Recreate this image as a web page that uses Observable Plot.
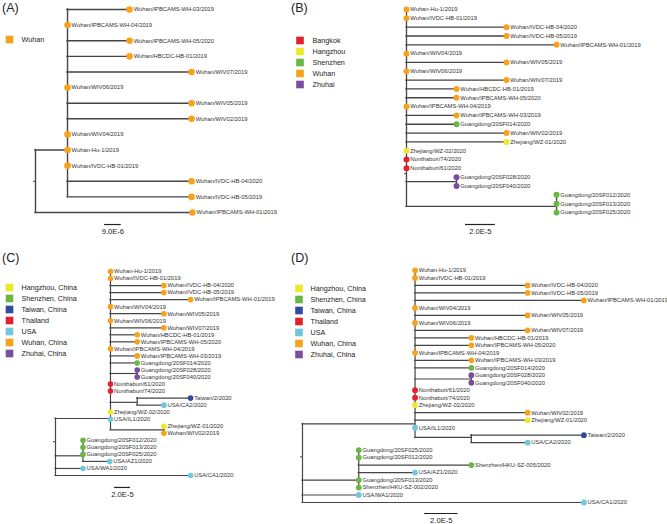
<!DOCTYPE html>
<html><head><meta charset="utf-8">
<script src="https://cdn.jsdelivr.net/npm/d3@7"></script>
<script src="https://cdn.jsdelivr.net/npm/@observablehq/plot@0.6"></script>
<style>
body{margin:0;background:#fff;font-family:"Liberation Sans",Arial,sans-serif;}
#root{position:relative;width:667px;height:524px;overflow:hidden;background:#fff;}
#root svg{position:absolute;left:0;top:0;background:transparent !important;overflow:visible;}
.plabel{position:absolute;font-size:12.5px;color:#222;line-height:1;}
</style></head>
<body><div id="root"></div>
<script>
// ---------- regions & colours ----------
const regionKeys   = ["Hangzhou","Shenzhen","Taiwan","Thailand","USA","Wuhan","Zhuhai"];
const regionColors = ["#ece92b","#6bb647","#2e4b9f","#e3202b","#6ec7dc","#f6a21d","#7b4e9d"];

const strainNames = ["Wuhan-Hu-1/2019","Wuhan/IVDC-HB-01/2019","Wuhan/IVDC-HB-04/2020","Wuhan/IVDC-HB-05/2019",
 "Wuhan/IPBCAMS-WH-01/2019","Wuhan/IPBCAMS-WH-03/2019","Wuhan/IPBCAMS-WH-04/2019","Wuhan/IPBCAMS-WH-05/2020",
 "Wuhan/WIV02/2019","Wuhan/WIV04/2019","Wuhan/WIV05/2019","Wuhan/WIV06/2019","Wuhan/WIV07/2019","Wuhan/HBCDC-HB-01/2019",
 "Guangdong/20SF014/2020","Guangdong/20SF028/2020","Guangdong/20SF040/2020","Guangdong/20SF012/2020","Guangdong/20SF013/2020",
 "Guangdong/20SF025/2020","Zhejiang/WZ-01/2020","Zhejiang/WZ-02/2020","Nonthaburi/74/2020","Nonthaburi/61/2020",
 "Taiwan/2/2020","USA/CA1/2020","USA/CA2/2020","USA/IL1/2020","USA/AZ1/2020","USA/WA1/2020",
 "Shenzhen/HKU-SZ-002/2020","Shenzhen/HKU-SZ-005/2020"];
const strainRegions = ["Wuhan","Wuhan","Wuhan","Wuhan","Wuhan","Wuhan","Wuhan","Wuhan","Wuhan","Wuhan","Wuhan","Wuhan","Wuhan","Wuhan",
 "Shenzhen","Zhuhai","Zhuhai","Shenzhen","Shenzhen","Shenzhen","Hangzhou","Hangzhou","Thailand","Thailand",
 "Taiwan","USA","USA","USA","USA","USA","Shenzhen","Shenzhen"];

// ---------- Panel A (depths: distance from root, x 1e-5 subs/site) ----------
const tipsA = ["Wuhan/IPBCAMS-WH-03/2019","Wuhan/IPBCAMS-WH-04/2019","Wuhan/IPBCAMS-WH-05/2020","Wuhan/HBCDC-HB-01/2019",
 "Wuhan/WIV07/2019","Wuhan/WIV06/2019","Wuhan/WIV05/2019","Wuhan/WIV02/2019","Wuhan/WIV04/2019","Wuhan-Hu-1/2019",
 "Wuhan/IVDC-HB-01/2019","Wuhan/IVDC-HB-04/2020","Wuhan/IVDC-HB-05/2019","Wuhan/IPBCAMS-WH-01/2019"];
const depthA  = [5.08,1.73,5.08,5.08,8.43,1.73,8.43,8.43,1.73,1.73,1.73,8.43,8.43,8.48];
const parentA = ["n","n","n","n","n","n","n","n","n","n","n","n","n","root"];
const nodeIdsA = ["root","n"], nodeDepthA = [0,1.73], nodeRowA = [11,9], nodeParentA = [null,"root"];
const legendA = ["Wuhan"], legendKeysA = ["Wuhan"];
const scaleLenA = 0.9, scaleLabelA = "9.0E-6";

// ---------- Panel B ----------
const tipsB = ["Wuhan-Hu-1/2019","Wuhan/IVDC-HB-01/2019","Wuhan/IVDC-HB-04/2020","Wuhan/IVDC-HB-05/2019","Wuhan/IPBCAMS-WH-01/2019",
 "Wuhan/WIV04/2019","Wuhan/WIV05/2019","Wuhan/WIV06/2019","Wuhan/WIV07/2019","Wuhan/HBCDC-HB-01/2019","Wuhan/IPBCAMS-WH-05/2020",
 "Wuhan/IPBCAMS-WH-04/2019","Wuhan/IPBCAMS-WH-03/2019","Guangdong/20SF014/2020","Wuhan/WIV02/2019","Zhejiang/WZ-01/2020",
 "Zhejiang/WZ-02/2020","Nonthaburi/74/2020","Nonthaburi/61/2020","Guangdong/20SF028/2020","Guangdong/20SF040/2020",
 "Guangdong/20SF012/2020","Guangdong/20SF013/2020","Guangdong/20SF025/2020"];
const depthB  = [0,0,6.7,6.7,10.05,0,6.7,0,6.7,3.35,3.35,0,3.35,3.35,6.7,6.7,0,0,0,3.35,3.35,10.05,10.05,10.05];
const parentB = ["root","root","root","root","root","root","root","root","root","root","root","root","root","root","root","root",
 "root","root","root","p","p","g","g","g"];
const nodeIdsB = ["root","p","g"], nodeDepthB = [0,3.35,10.05], nodeRowB = [18.6,19.5,22.3], nodeParentB = [null,"root","root"];
const legendB = ["Bangkok","Hangzhou","Shenzhen","Wuhan","Zhuhai"], legendKeysB = ["Thailand","Hangzhou","Shenzhen","Wuhan","Zhuhai"];
const scaleLenB = 2, scaleLabelB = "2.0E-5";

// ---------- Panel C ----------
const tipsC = ["Wuhan-Hu-1/2019","Wuhan/IVDC-HB-01/2019","Wuhan/IVDC-HB-04/2020","Wuhan/IVDC-HB-05/2019","Wuhan/IPBCAMS-WH-01/2019",
 "Wuhan/WIV04/2019","Wuhan/WIV05/2019","Wuhan/WIV06/2019","Wuhan/WIV07/2019","Wuhan/HBCDC-HB-01/2019","Wuhan/IPBCAMS-WH-05/2020",
 "Wuhan/IPBCAMS-WH-04/2019","Wuhan/IPBCAMS-WH-03/2019","Guangdong/20SF014/2020","Guangdong/20SF028/2020","Guangdong/20SF040/2020",
 "Nonthaburi/61/2020","Nonthaburi/74/2020","Taiwan/2/2020","USA/CA2/2020","Zhejiang/WZ-02/2020","USA/IL1/2020",
 "Zhejiang/WZ-01/2020","Wuhan/WIV02/2019","Guangdong/20SF012/2020","Guangdong/20SF013/2020","Guangdong/20SF025/2020",
 "USA/AZ1/2020","USA/WA1/2020","USA/CA1/2020"];
const depthC  = [6.9,6.9,13.6,13.6,16.95,6.9,13.6,6.9,13.6,10.25,10.25,6.9,10.25,10.25,10.25,10.25,6.9,6.9,16.95,13.6,
 6.9,6.9,13.6,13.6,3.45,3.45,3.45,6.8,3.45,16.95];
const parentC = ["b","b","b","b","b","b","b","b","b","b","b","b","b","b","p","p","b","b","t","t","b","b","w","w",
 "g","g","g","g","root","root"];
const nodeIdsC = ["root","b","p","t","w","g"], nodeDepthC = [0,6.9,10.25,10.25,13.6,3.45],
      nodeRowC = [24.2,20.9,14.5,18.6,22.5,26.2], nodeParentC = [null,"root","b","b","b","root"];
const legendC = ["Hangzhou, China","Shenzhen, China","Taiwan, China","Thailand","USA","Wuhan, China","Zhuhai, China"];
const legendKeysC = ["Hangzhou","Shenzhen","Taiwan","Thailand","USA","Wuhan","Zhuhai"];
const scaleLenC = 2, scaleLabelC = "2.0E-5";

// ---------- Panel D ----------
const tipsD = ["Wuhan-Hu-1/2019","Wuhan/IVDC-HB-01/2019","Wuhan/IVDC-HB-04/2020","Wuhan/IVDC-HB-05/2019","Wuhan/IPBCAMS-WH-01/2019",
 "Wuhan/WIV04/2019","Wuhan/WIV05/2019","Wuhan/WIV06/2019","Wuhan/WIV07/2019","Wuhan/HBCDC-HB-01/2019","Wuhan/IPBCAMS-WH-05/2020",
 "Wuhan/IPBCAMS-WH-04/2019","Wuhan/IPBCAMS-WH-03/2019","Guangdong/20SF014/2020","Guangdong/20SF028/2020","Guangdong/20SF040/2020",
 "Nonthaburi/61/2020","Nonthaburi/74/2020","Zhejiang/WZ-02/2020","Wuhan/WIV02/2019","Zhejiang/WZ-01/2020","USA/IL1/2020",
 "Taiwan/2/2020","USA/CA2/2020","Guangdong/20SF025/2020","Guangdong/20SF012/2020","Shenzhen/HKU-SZ-005/2020","USA/AZ1/2020",
 "Guangdong/20SF013/2020","Shenzhen/HKU-SZ-002/2020","USA/WA1/2020","USA/CA1/2020"];
const depthD  = [6.7,6.7,13.4,13.4,16.75,6.7,13.4,6.7,13.4,10.05,10.05,6.7,10.05,10.05,10.05,10.05,6.7,6.7,6.7,13.4,13.4,6.7,
 16.75,13.4,3.35,3.35,10.05,6.7,3.35,3.35,3.35,16.75];
const parentD = ["b","b","b","b","b","b","b","b","b","b","b","b","b","b","p","p","b","b","b","b","b","b","t","t",
 "g","g","g","g","g","g","root","root"];
const nodeIdsD = ["root","b","p","t","g"], nodeDepthD = [0,6.7,10.05,10.05,3.35],
      nodeRowD = [24.9,20.5,14.5,22.3,28], nodeParentD = [null,"root","b","b","root"];
const legendD = legendC, legendKeysD = legendKeysC;
const scaleLenD = 2, scaleLabelD = "2.0E-5";

// ---------- layout (pixels) ----------
const panels = [
 {lab:"(A)", lx:2, ly:2, tips:tipsA, depth:depthA, parent:parentA, nodeIds:nodeIdsA, nodeDepth:nodeDepthA, nodeRow:nodeRowA, nodeParent:nodeParentA,
  legend:legendA, legendKeys:legendKeysA, sLen:scaleLenA, sLab:scaleLabelA,
  xRoot:35, ppu:18.51, yTop:9, yBot:212, r:3.3, sw:1.4, barX:3.73, barRow:13.77,
  legX:9, legY:[38.6,38.6], legTX:21},
 {lab:"(B)", lx:291, ly:2, tips:tipsB, depth:depthB, parent:parentB, nodeIds:nodeIdsB, nodeDepth:nodeDepthB, nodeRow:nodeRowB, nodeParent:nodeParentB,
  legend:legendB, legendKeys:legendKeysB, sLen:scaleLenB, sLab:scaleLabelB,
  xRoot:406, ppu:14.93, yTop:9, yBot:212, r:3.0, sw:1.3, barX:3.95, barRow:24.36,
  legX:299.5, legY:[39,85], legTX:312},
 {lab:"(C)", lx:2, ly:252, tips:tipsC, depth:depthC, parent:parentC, nodeIds:nodeIdsC, nodeDepth:nodeDepthC, nodeRow:nodeRowC, nodeParent:nodeParentC,
  legend:legendC, legendKeys:legendKeysC, sLen:scaleLenC, sLab:scaleLabelC,
  xRoot:55, ppu:7.97, yTop:271, yBot:475, r:2.8, sw:1.2, barX:7.4, barRow:30.7,
  legX:9, legY:[285.5,355], legTX:21},
 {lab:"(D)", lx:291, ly:252, tips:tipsD, depth:depthD, parent:parentD, nodeIds:nodeIdsD, nodeDepth:nodeDepthD, nodeRow:nodeRowD, nodeParent:nodeParentD,
  legend:legendD, legendKeys:legendKeysD, sLen:scaleLenD, sLab:scaleLabelD,
  xRoot:302, ppu:16.8, yTop:270, yBot:502, r:2.9, sw:1.2, barX:7.26, barRow:32.47,
  legX:298.5, legY:[286,355.5], legTX:310}
];

const FONT = "Liberation Sans, Arial, Helvetica, sans-serif";
const colorOfRegion = k => regionColors[regionKeys.indexOf(k)];
const colorOfStrain = name => colorOfRegion(strainRegions[strainNames.indexOf(name)]);
const root = document.getElementById("root");

function treePlot(p) {
  const n = p.tips.length;
  const nodes = p.nodeIds.map((id,i)=>({id, depth:p.nodeDepth[i], row:p.nodeRow[i], parent:p.nodeParent[i]}));
  const byId = new Map(nodes.map(d=>[d.id,d]));
  const tips = p.tips.map((name,i)=>({name, depth:p.depth[i], row:i, parent:p.parent[i], color:colorOfStrain(name)}));
  const all = [...tips, ...nodes];
  const horiz = all.filter(d=>d.parent).map(d=>({y:d.row, x1:byId.get(d.parent).depth, x2:d.depth}));
  const vert = nodes.map(nd=>{
    const rows = all.filter(c=>c.parent===nd.id).map(c=>c.row);
    return {x:nd.depth, y1:d3.min(rows), y2:d3.max(rows)};
  });
  const rootNode = nodes.find(d=>!d.parent);
  const line = {stroke:"#454545", strokeWidth:p.sw, strokeLinecap:"square"};
  return Plot.plot({
    width:667, height:524, margin:0,
    style:{background:"transparent", fontFamily:FONT},
    x:{type:"linear", domain:[0,1], range:[p.xRoot, p.xRoot+p.ppu], axis:null},
    y:{type:"linear", domain:[0,n-1], range:[p.yTop, p.yBot], axis:null},
    color:{type:"identity"},
    marks:[
      Plot.ruleY(horiz, {y:"y", x1:"x1", x2:"x2", ...line}),
      Plot.ruleX(vert, {x:"x", y1:"y1", y2:"y2", ...line}),
      Plot.ruleY([rootNode], {y:"row", x1:d=>d.depth-2/p.ppu, x2:"depth", stroke:"#454545", strokeWidth:1}),
      Plot.dot(tips, {x:"depth", y:"row", r:p.r, fill:"color"}),
      Plot.text(tips, {x:"depth", y:"row", text:"name", dx:p.r+0.8, textAnchor:"start", fontSize:5.8, fill:"#333", fontFamily:FONT}),
      Plot.ruleY([p.sLab], {y:()=>p.barRow, x1:()=>p.barX, x2:()=>p.barX+p.sLen, stroke:"#222", strokeWidth:1.2}),
      Plot.text([p.sLab], {x:()=>p.barX+p.sLen/2, y:()=>p.barRow, text:d=>d, dy:7.5, fontSize:7.6, fill:"#222", fontFamily:FONT})
    ]
  });
}

function legendPlot(p) {
  return Plot.plot({
    width:667, height:524, margin:0,
    style:{background:"transparent", fontFamily:FONT},
    x:{type:"linear", domain:[0,1], range:[p.legX, p.legX+1], axis:null},
    y:{type:"point", domain:p.legend, range:p.legY, padding:0, axis:null},
    marks:[
      Plot.dot(p.legend, {x:()=>0, y:d=>d, symbol:"square", r:4.3, fill:(d,i)=>colorOfRegion(p.legendKeys[i])}),
      Plot.text(p.legend, {x:()=>0, y:d=>d, text:d=>d, dx:p.legTX-p.legX, textAnchor:"start", fontSize:7.2, fill:"#222", fontFamily:FONT})
    ]
  });
}

for (const p of panels) {
  const lab = document.createElement("div");
  lab.className = "plabel";
  lab.style.left = p.lx+"px"; lab.style.top = p.ly+"px";
  lab.textContent = p.lab;
  root.appendChild(lab);
  root.appendChild(treePlot(p));
  root.appendChild(legendPlot(p));
}
</script>
</body></html>
